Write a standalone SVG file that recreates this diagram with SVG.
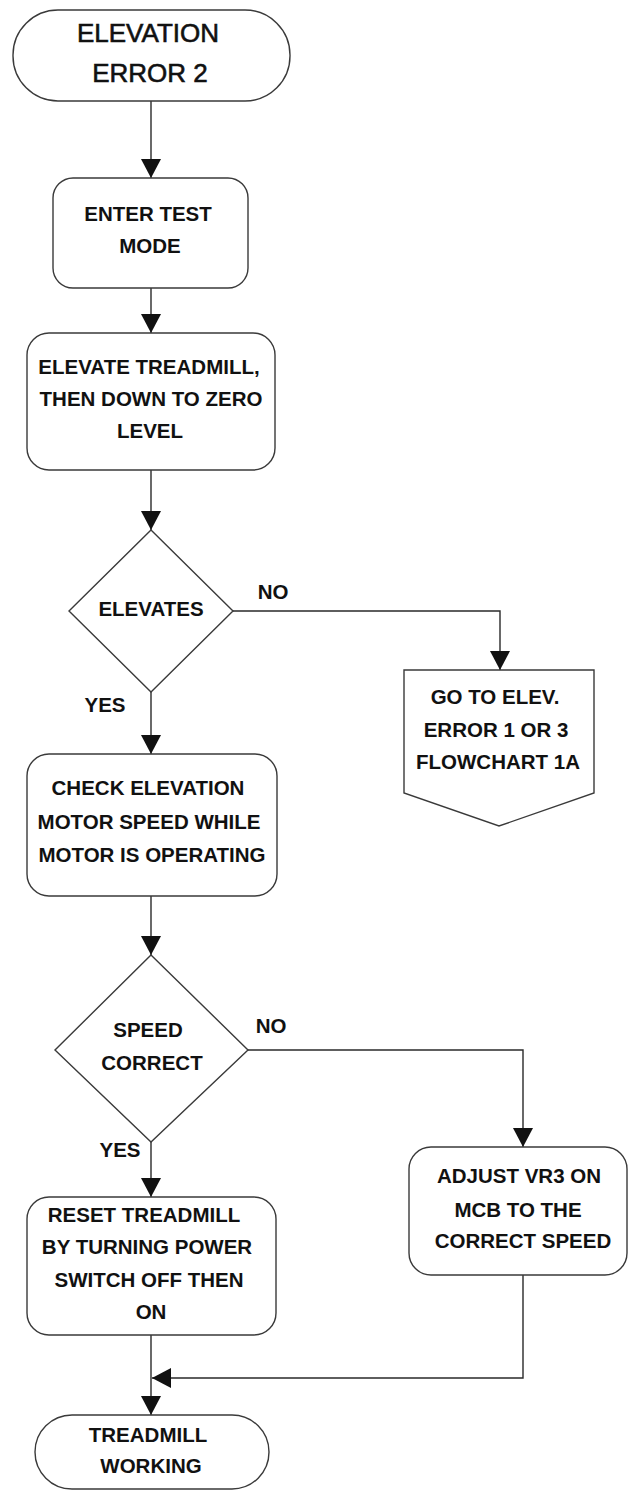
<svg xmlns="http://www.w3.org/2000/svg" width="628" height="1491" viewBox="0 0 628 1491">
  <style>
    .shape { fill: #ffffff; stroke: #3a3a3a; stroke-width: 1.4; }
    .link { fill: none; stroke: #2a2a2a; stroke-width: 1.4; }
    .lbl { font-family: "Liberation Sans", Arial, sans-serif; font-weight: bold; font-size: 20.5px; fill: #111111; text-anchor: middle; }
    .title { font-family: "Liberation Sans", Arial, sans-serif; font-weight: normal; font-size: 26px; fill: #111111; stroke: #111111; stroke-width: 0.6; text-anchor: middle; }
  </style>
  <defs>
    <marker id="arrow" markerUnits="userSpaceOnUse" markerWidth="20" markerHeight="20" refX="19" refY="10" orient="auto">
      <path d="M0,0 L19,10 L0,20 Z" fill="#111111"/>
    </marker>
  </defs>
  <rect width="628" height="1491" fill="#ffffff"/>

  <!-- connectors -->
  <g id="connectors">
    <path class="link" d="M151,101 V178" marker-end="url(#arrow)"/>
    <path class="link" d="M151,288 V333" marker-end="url(#arrow)"/>
    <path class="link" d="M151,470 V530" marker-end="url(#arrow)"/>
    <path class="link" d="M233,611 H500 V670" marker-end="url(#arrow)"/>
    <path class="link" d="M151,692 V754" marker-end="url(#arrow)"/>
    <path class="link" d="M151,896 V955" marker-end="url(#arrow)"/>
    <path class="link" d="M248,1050 H523 V1147" marker-end="url(#arrow)"/>
    <path class="link" d="M151,1142 V1197" marker-end="url(#arrow)"/>
    <path class="link" d="M151,1335 V1415" marker-end="url(#arrow)"/>
    <path class="link" d="M523,1275 V1378 H152" marker-end="url(#arrow)"/>
    <text class="lbl" x="273" y="599">NO</text>
    <text class="lbl" x="105" y="712">YES</text>
    <text class="lbl" x="271" y="1033">NO</text>
    <text class="lbl" x="120" y="1157">YES</text>
  </g>

  <!-- start terminal -->
  <g id="start">
    <rect class="shape" x="13" y="10" width="277" height="91" rx="45" ry="45"/>
    <text class="title" x="148" y="42">ELEVATION</text>
    <text class="title" x="150" y="82">ERROR 2</text>
  </g>

  <g id="enter-test">
    <rect class="shape" x="53" y="178" width="195" height="110" rx="20"/>
    <text class="lbl" x="148" y="221">ENTER TEST</text>
    <text class="lbl" x="150" y="253">MODE</text>
  </g>

  <g id="elevate">
    <rect class="shape" x="27" y="333" width="248" height="137" rx="22"/>
    <text class="lbl" x="149" y="374">ELEVATE TREADMILL,</text>
    <text class="lbl" x="151" y="406">THEN DOWN TO ZERO</text>
    <text class="lbl" x="150" y="438">LEVEL</text>
  </g>

  <g id="elevates">
    <polygon class="shape" points="151,530 233,611 151,692 69,611"/>
    <text class="lbl" x="151" y="616">ELEVATES</text>
  </g>

  <g id="goto-error">
    <polygon class="shape" points="404,670 594,670 594,793 499,826 404,793"/>
    <text class="lbl" x="495" y="704">GO TO ELEV.</text>
    <text class="lbl" x="496" y="737">ERROR 1 OR 3</text>
    <text class="lbl" x="498" y="769">FLOWCHART 1A</text>
  </g>

  <g id="check-speed">
    <rect class="shape" x="27" y="754" width="250" height="142" rx="22"/>
    <text class="lbl" x="148" y="795">CHECK ELEVATION</text>
    <text class="lbl" x="149" y="829">MOTOR SPEED WHILE</text>
    <text class="lbl" x="152" y="862">MOTOR IS OPERATING</text>
  </g>

  <g id="speed-correct">
    <polygon class="shape" points="151,955 248,1050 151,1142 55,1050"/>
    <text class="lbl" x="148" y="1037">SPEED</text>
    <text class="lbl" x="152" y="1070">CORRECT</text>
  </g>

  <g id="adjust">
    <rect class="shape" x="409" y="1147" width="218" height="128" rx="22"/>
    <text class="lbl" x="519" y="1183">ADJUST VR3 ON</text>
    <text class="lbl" x="518" y="1217">MCB TO THE</text>
    <text class="lbl" x="523" y="1248">CORRECT SPEED</text>
  </g>

  <g id="reset">
    <rect class="shape" x="27" y="1197" width="249" height="138" rx="22"/>
    <text class="lbl" x="144" y="1222">RESET TREADMILL</text>
    <text class="lbl" x="147" y="1254">BY TURNING POWER</text>
    <text class="lbl" x="149" y="1287">SWITCH OFF THEN</text>
    <text class="lbl" x="151" y="1319">ON</text>
  </g>

  <g id="end">
    <rect class="shape" x="35" y="1415" width="234" height="74" rx="37" ry="37"/>
    <text class="lbl" x="148" y="1442">TREADMILL</text>
    <text class="lbl" x="151" y="1473">WORKING</text>
  </g>
</svg>
